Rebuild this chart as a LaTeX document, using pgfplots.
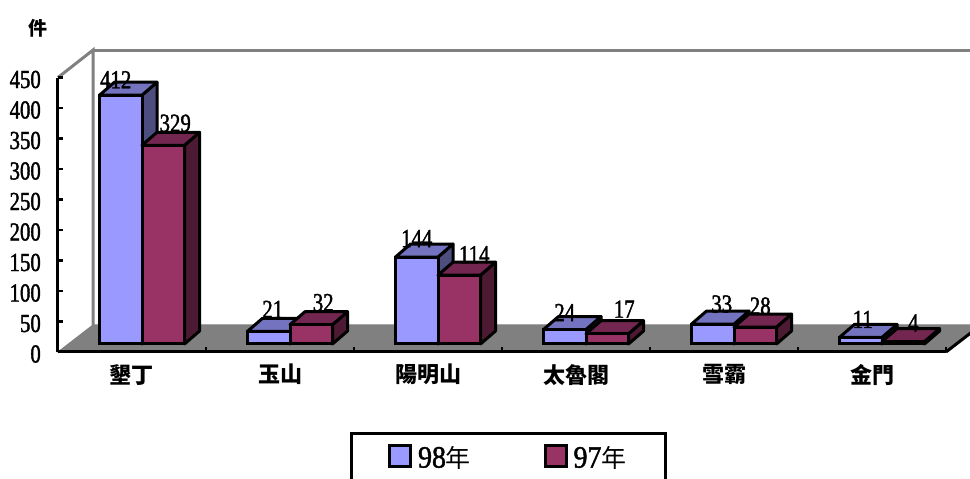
\documentclass[border=0pt]{standalone}
\usepackage{pgfplots}
\pgfplotsset{compat=1.18}
\usepackage{pgfplotstable}
\usepackage{fontspec}
\setmainfont{Liberation Serif}
\newfontfamily\numfont[FakeStretch=0.8,FakeBold=1.5]{Liberation Serif}
\newfontfamily\legnum[FakeStretch=0.9,FakeBold=1.5]{Liberation Serif}
\newfontfamily\cjk{Noto Sans CJK TC}
\definecolor{afront}{HTML}{9999FF}
\definecolor{atop}{HTML}{7373BF}
\definecolor{aside}{HTML}{4D4D80}
\definecolor{bfront}{HTML}{993366}
\definecolor{btop}{HTML}{732650}
\definecolor{bside}{HTML}{4D1A33}
\definecolor{wall}{HTML}{808080}
\pgfplotstableread{
pos a b
0.5 412 329
1.5 21 32
2.5 144 114
3.5 24 17
4.5 33 28
5.5 11 4
}\parkdata
\newcommand{\numlab}{\numfont\fontsize{26}{26}\selectfont}
% depth faces of a bar: left x, right x, value, top colour, side colour
\newcommand{\faces}[5]{%
  \pgfmathsetmacro{\xa}{#1+0.1014}%
  \pgfmathsetmacro{\xb}{#2+0.1014}%
  \pgfmathsetmacro{\vt}{#3+21.5}%
  \addplot[forget plot,fill=#5,draw=black,line width=3pt,line join=round] coordinates {(#2,0)(\xb,21.5)(\xb,\vt)(#2,#3)} -- cycle;
  \addplot[forget plot,fill=#4,draw=black,line width=3pt,line join=round] coordinates {(#1,#3)(#2,#3)(\xb,\vt)(\xa,\vt)} -- cycle;
}
\newcommand{\aface}[2]{\pgfmathsetmacro{\l}{#1-0.2872}\faces{\l}{#1}{#2}{atop}{aside}}
\newcommand{\bface}[2]{\pgfmathsetmacro{\r}{#1+0.2872}\faces{#1}{\r}{#2}{btop}{bside}}
% value label: category centre, value, x shift, y shift
\newcommand{\lab}[4]{\node[inner sep=0pt,font=\numlab] at (axis cs:#1,#2) [xshift=#3pt,yshift=#4pt] {#2};}
\begin{document}
\begin{tikzpicture}[x=1pt,y=1pt]
\path[use as bounding box] (0,0) rectangle (970,479);
\begin{axis}[
  at={(58pt,127pt)},anchor=origin,
  scale only axis,width=888pt,height=274.5pt,
  xmin=0,xmax=6,ymin=0,ymax=450,
  clip=false,axis on top,
  axis x line*=bottom,axis y line*=left,
  axis line style={-,line width=3pt,black},
  tick align=inside,
  ytick={0,50,...,450},
  xtick={0.5,1.5,...,5.5},
  xticklabels={墾丁,玉山,陽明山,太魯閣,雪霸,金門},
  minor xtick={0,1,...,6},
  major x tick style={draw=none},
  minor x tick style={black,line width=2.5pt},
  minor tick length=5pt,
  major y tick style={black,line width=2.5pt},
  major tick length=5pt,
  /pgf/number format/assume math mode=true,
  yticklabel style={font=\numlab,inner sep=0pt,xshift=-17pt,yshift=-2pt},
  xticklabel style={font=\cjk\bfseries\fontsize{22}{22}\selectfont,inner sep=0pt,yshift=-12pt},
]
\addplot[fill=wall,draw=wall,line width=1pt] coordinates {(0,0)(6,0)(6.2365,44.3)(0.2365,44.3)} -- cycle;
\addplot[draw=wall,line width=3pt] coordinates {(0,450)(0.2365,495)(0.2365,44.3)};
\addplot[draw=wall,line width=3pt] coordinates {(0.2365,495)(6.2365,495)};
\addplot[draw=black,line width=3pt] coordinates {(6,0)(6.2365,44.3)};
\end{axis}
\begin{axis}[
  at={(68pt,135pt)},anchor=origin,
  scale only axis,width=888pt,height=271.8pt,
  xmin=0,xmax=6,ymin=0,ymax=450,
  clip=false,hide axis,
  legend columns=2,
  legend style={at={(0.4960,-0.3237)},anchor=north,draw=black,line width=3pt,
    inner xsep=37pt,inner ysep=11pt,
    font=\legnum\fontsize{31}{31}\selectfont,
    /tikz/every odd column/.append style={column sep=4pt},
    /tikz/every even column/.append style={column sep=71pt}},
]
\aface{0.5}{412}\aface{1.5}{21}\aface{2.5}{144}\aface{3.5}{24}\aface{4.5}{33}\aface{5.5}{11}
\addplot[ybar,bar width=42.5pt,bar shift=-21.25pt,fill=afront,draw=black,line width=3pt,
  legend image code/.code={\draw[fill=afront,draw=black,line width=2.6pt] (0pt,-9pt) rectangle (21pt,12pt);}]
  table[x=pos,y=a] {\parkdata};
\addlegendentry{98{\cjk\fontsize{25}{25}\selectfont 年}}
\bface{0.5}{329}\bface{1.5}{32}\bface{2.5}{114}\bface{3.5}{17}\bface{4.5}{28}\bface{5.5}{4}
\addplot[ybar,bar width=42.5pt,bar shift=21.25pt,fill=bfront,draw=black,line width=3pt,
  legend image code/.code={\draw[fill=bfront,draw=black,line width=2.6pt] (0pt,-9pt) rectangle (21pt,12pt);}]
  table[x=pos,y=b] {\parkdata};
\addlegendentry{97{\cjk\fontsize{25}{25}\selectfont 年}}
\lab{0.5}{412}{-26.25}{15.5}
\lab{0.5}{329}{33.25}{22}
\lab{1.5}{21}{-17.25}{22}
\lab{1.5}{32}{33.25}{22}
\lab{2.5}{144}{-21.25}{18.5}
\lab{2.5}{114}{36.25}{20.5}
\lab{3.5}{24}{-21.25}{17}
\lab{3.5}{17}{38.25}{24.6}
\lab{4.5}{33}{-12.25}{20}
\lab{4.5}{28}{26.25}{21}
\lab{5.5}{11}{-19.25}{18}
\lab{5.5}{4}{31.25}{18.6}
\end{axis}
\draw[black,line width=3pt] (665,47) -- (665,-2);
\node[font=\cjk\bfseries\fontsize{19}{19}\selectfont,inner sep=0pt] at (38,451) {件};
\end{tikzpicture}
\end{document}
